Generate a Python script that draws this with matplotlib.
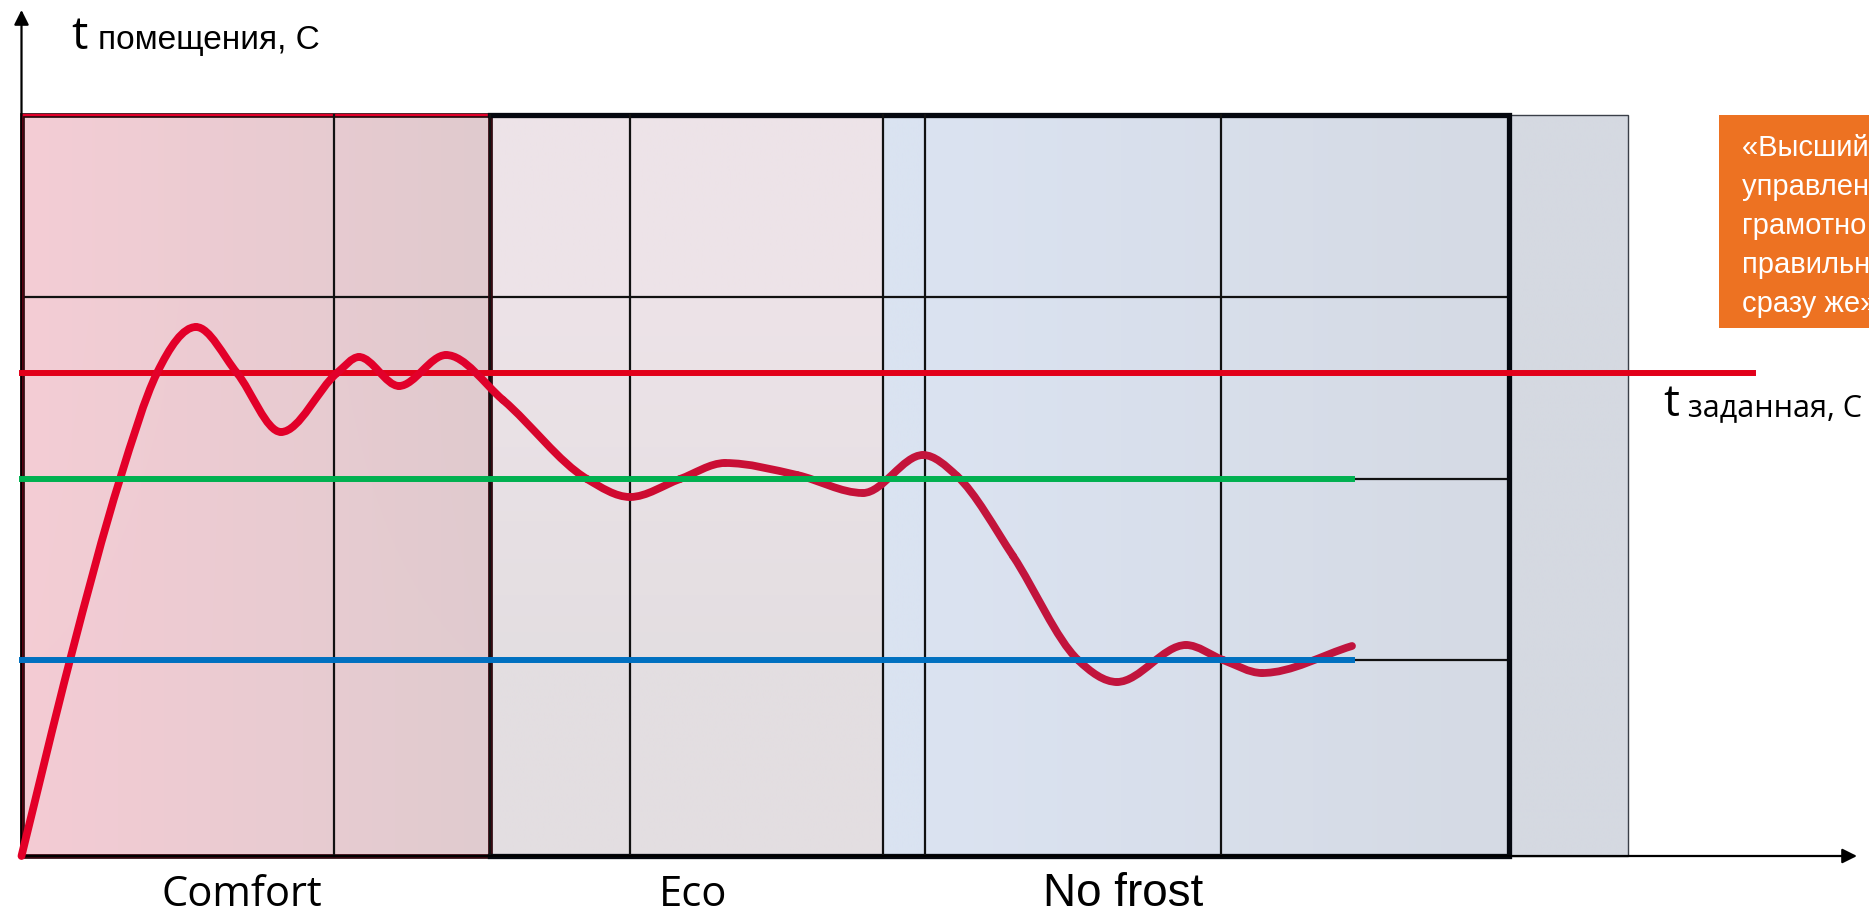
import numpy as np
import matplotlib
matplotlib.use('Agg')
import matplotlib.pyplot as plt
from matplotlib.patches import Rectangle, PathPatch
from matplotlib.path import Path
from matplotlib import font_manager

# Кривая температуры помещения (время, условные ед. / температура, условные ед.)
curve_x = [0.0, 0.485, 0.985, 1.355, 1.745, 2.155, 2.595, 3.155, 3.375, 3.775, 4.245,
           4.815, 5.655, 6.085, 6.585, 7.035, 7.755, 8.415, 9.015, 9.355, 9.915,
           10.565, 10.955, 11.645, 12.015, 12.405, 13.305]
curve_y = [0.0, 1.96, 3.77, 4.83, 5.29, 4.83, 4.24, 4.83, 4.99, 4.70, 5.01,
           4.56, 3.77, 3.59, 3.77, 3.93, 3.81, 3.63, 4.01, 3.80, 3.00,
           1.96, 1.74, 2.11, 1.96, 1.83, 2.10]

# Уровни
setpoint = 4.83
eco_level = 3.77
frost_level = 1.96
levels_end = 13.305
setpoint_end = 17.315

# Зоны режимов
zone_edges = [0, 4.685, 8.615, 9.035, 14.875, 16.065]
zone_names = ['Comfort', 'Eco', 'No frost']
zone_label_x = [2.205, 6.715, 11.015]
grid_x = [3.125, 4.685, 6.085, 8.615, 9.035, 11.995]
grid_y = [1.96, 3.77, 5.59]
box_top = 7.41

# Цвета фона зон: (верх-лево, верх-право, низ-лево, низ-право)
zone_colors = [
    [(244, 205, 213), (224, 202, 206), (244, 204, 212), (224, 203, 207)],
    [(237, 227, 232), (237, 227, 232), (227, 222, 225), (227, 222, 225)],
    [(218, 227, 241), (218, 227, 241), (218, 227, 241), (218, 227, 241)],
    [(219, 227, 241), (213, 218, 228), (219, 227, 241), (213, 218, 228)],
    [(213, 217, 225), (213, 217, 225), (213, 217, 225), (213, 217, 225)],
]

names = {f.name for f in font_manager.fontManager.ttflist}
narrow = 'Liberation Sans Narrow' in names

fig = plt.figure(figsize=(18.69, 9.18), dpi=100)
ax = fig.add_axes([0, 0, 1, 1])
ax.set_xlim(-0.215, 18.475)
ax.set_ylim(-0.62, 8.56)
ax.axis('off')

# фон зон с градиентом
for i in range(len(zone_edges) - 1):
    tl, tr, bl, br = [np.array(c) / 255 for c in zone_colors[i]]
    t = np.linspace(0, 1, 64)[None, :, None]
    top = tl + (tr - tl) * t
    bot = bl + (br - bl) * t
    img = np.concatenate([top, bot], axis=0)
    ax.imshow(img, extent=[zone_edges[i], zone_edges[i + 1], 0, box_top],
              aspect='auto', interpolation='bilinear', zorder=0)

# серый блок справа
ax.add_patch(Rectangle((zone_edges[4], 0), zone_edges[5] - zone_edges[4], box_top,
                       fill=False, edgecolor='#3a3f48', lw=1.0, zorder=2))

# рамка зоны Comfort (красная)
ax.add_patch(Rectangle((0, 0), zone_edges[1], box_top, fill=False,
                       edgecolor='#2a0a0f', lw=3.4, zorder=3))
ax.add_patch(Rectangle((0, 0), zone_edges[1], box_top, fill=False,
                       edgecolor='#e2002a', lw=1.6, zorder=3))

# тонкая сетка
for gx in grid_x:
    ax.plot([gx, gx], [0, box_top], color='#111111', lw=1.6, zorder=3.5)
for gy in grid_y:
    ax.plot([0, zone_edges[4]], [gy, gy], color='#111111', lw=1.6, zorder=2)

# толстая рамка
ax.plot([zone_edges[1], zone_edges[4], zone_edges[4], zone_edges[1]],
        [box_top, box_top, 0, 0], color='#05080f', lw=3.8, zorder=3,
        solid_joinstyle='miter')

# оси со стрелками
ax.annotate('', xy=(0, 8.46), xytext=(0, 0),
            arrowprops=dict(arrowstyle='-|>', color='black', lw=1.6,
                            mutation_scale=22, shrinkA=0, shrinkB=0), zorder=4)
ax.annotate('', xy=(18.355, 0), xytext=(0, 0),
            arrowprops=dict(arrowstyle='-|>', color='black', lw=1.6,
                            mutation_scale=22, shrinkA=0, shrinkB=0), zorder=4)


# кривая: кубические сегменты Безье через точки
# (трёхточечная производная, ноль в экстремумах)
def tangents(x, y):
    x = np.asarray(x)
    y = np.asarray(y)
    h = np.diff(x)
    d = np.diff(y) / h
    m = np.zeros(len(x))
    m[0] = d[0]
    m[-1] = d[-1]
    for k in range(1, len(x) - 1):
        if d[k - 1] * d[k] <= 0:
            m[k] = 0
        else:
            s = (d[k - 1] * h[k] + d[k] * h[k - 1]) / (h[k - 1] + h[k])
            lim = 3 * min(abs(d[k - 1]), abs(d[k]))
            m[k] = np.sign(s) * min(abs(s), lim)
    return m


col_x = [0, 4.3, 6.0, 9.0, 13.3]
col_rgb = np.array([(227, 0, 40), (226, 0, 42), (206, 10, 48), (195, 20, 60), (192, 20, 62)]) / 255

m = tangents(curve_x, curve_y)
for i in range(len(curve_x) - 1):
    x0, x1 = curve_x[i], curve_x[i + 1]
    y0, y1 = curve_y[i], curve_y[i + 1]
    h = x1 - x0
    verts = [(x0, y0), (x0 + h / 3, y0 + m[i] * h / 3),
             (x1 - h / 3, y1 - m[i + 1] * h / 3), (x1, y1)]
    codes = [Path.MOVETO, Path.CURVE4, Path.CURVE4, Path.CURVE4]
    xm = (x0 + x1) / 2
    c = [np.interp(xm, col_x, col_rgb[:, j]) for j in range(3)]
    ax.add_patch(PathPatch(Path(verts, codes), fill=False, edgecolor=c, lw=5.6,
                           capstyle='round', joinstyle='round', zorder=5))

# уровни
ax.plot([0, setpoint_end], [setpoint, setpoint], color='#e2001a', lw=4.3, zorder=4)
ax.plot([0, levels_end], [eco_level, eco_level], color='#00b050', lw=4.3, zorder=6)
ax.plot([0, levels_end], [frost_level, frost_level], color='#0070c0', lw=4.3, zorder=6)

# подписи осей
ax.text(0.5, 8.07, 't', fontsize=33, family='Open Sans', va='baseline', ha='left')
ax.text(0.765, 8.07, 'помещения, С', fontsize=24, family='Liberation Sans',
        va='baseline', ha='left')
ax.text(16.415, 4.40, 't', fontsize=32, family='Open Sans', va='baseline', ha='left')
ax.text(16.665, 4.40, 'заданная, С', fontsize=22, family='Open Sans',
        va='baseline', ha='left')

# подписи режимов
for name, lx in zip(zone_names, zone_label_x):
    if name == 'No frost':
        ax.text(lx, -0.60, name, fontsize=37 if narrow else 33,
                family='Liberation Sans Narrow' if narrow else 'Liberation Sans',
                ha='center', va='bottom')
    else:
        ax.text(lx, -0.60, name, fontsize=30, family='Open Sans',
                ha='center', va='bottom')

# оранжевая плашка (обрезана краем рисунка, как в оригинале)
ax.add_patch(Rectangle((16.975, 5.28), 3.0, box_top - 5.28, facecolor='#ed7222',
                       edgecolor='none', zorder=6))
ax.text(17.2, 7.22, '«Высший пилотаж\nуправления –\nграмотно\nправильно\nсразу же»',
        fontsize=21, family='Liberation Sans', color='white', va='top', ha='left',
        linespacing=1.5, zorder=7, clip_on=True)

fig.savefig('out.png', dpi=100)
